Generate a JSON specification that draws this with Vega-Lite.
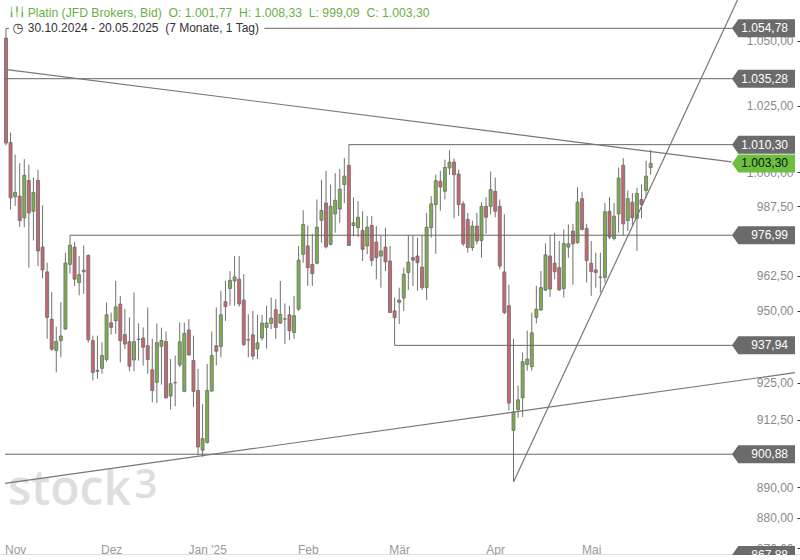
{
  "$schema": "https://vega.github.io/schema/vega-lite/v6.json",
  "width": 800,
  "height": 555,
  "padding": 0,
  "autosize": {"type": "none"},
  "background": "#ffffff",
  "config": {
    "locale": {"number": {"decimal": ",", "thousands": ".", "grouping": [3], "currency": ["", " €"]}},
    "view": {"stroke": null},
    "font": "Liberation Sans",
    "axis": {"grid": false, "title": null, "labelFont": "Liberation Sans"}
  },
  "datasets": {
    "candles": [
      {"i":0,"o":1051.0,"h":1054.78,"l":1010.0,"c":1010.9},
      {"i":1,"o":1011.1,"h":1014.85,"l":986.3,"c":990.6},
      {"i":2,"o":991.0,"h":1006.6,"l":987.6,"c":992.6},
      {"i":3,"o":991.2,"h":1003.4,"l":980.0,"c":982.3},
      {"i":4,"o":983.3,"h":1004.9,"l":979.9,"c":998.9},
      {"i":5,"o":997.0,"h":1002.8,"l":965.3,"c":985.1},
      {"i":6,"o":985.7,"h":998.1,"l":975.1,"c":992.6},
      {"i":7,"o":997.0,"h":1001.0,"l":965.9,"c":971.3},
      {"i":8,"o":972.7,"h":987.9,"l":961.5,"c":964.5},
      {"i":9,"o":963.8,"h":967.1,"l":940.2,"c":947.7},
      {"i":10,"o":947.1,"h":956.6,"l":936.1,"c":936.6},
      {"i":11,"o":936.2,"h":944.4,"l":928.6,"c":939.3},
      {"i":12,"o":939.6,"h":953.0,"l":933.8,"c":941.2},
      {"i":13,"o":943.6,"h":970.7,"l":943.4,"c":967.0},
      {"i":14,"o":966.5,"h":976.99,"l":963.2,"c":973.4},
      {"i":15,"o":972.7,"h":974.6,"l":958.8,"c":961.2},
      {"i":16,"o":960.0,"h":969.5,"l":955.5,"c":962.8},
      {"i":17,"o":964.4,"h":973.3,"l":956.0,"c":963.9},
      {"i":18,"o":969.7,"h":970.1,"l":939.0,"c":939.9},
      {"i":19,"o":939.6,"h":941.3,"l":925.8,"c":928.6},
      {"i":20,"o":929.0,"h":941.3,"l":926.4,"c":929.3},
      {"i":21,"o":930.0,"h":939.0,"l":928.1,"c":934.4},
      {"i":22,"o":933.0,"h":952.9,"l":932.3,"c":948.6},
      {"i":23,"o":945.8,"h":949.4,"l":941.7,"c":944.2},
      {"i":24,"o":946.5,"h":960.6,"l":941.9,"c":951.4},
      {"i":25,"o":952.4,"h":955.3,"l":932.1,"c":939.6},
      {"i":26,"o":941.7,"h":950.6,"l":936.7,"c":938.4},
      {"i":27,"o":939.2,"h":947.7,"l":929.0,"c":930.7},
      {"i":28,"o":932.9,"h":956.5,"l":929.0,"c":939.2},
      {"i":29,"o":940.0,"h":945.6,"l":932.7,"c":940.1},
      {"i":30,"o":940.5,"h":944.2,"l":931.0,"c":937.3},
      {"i":31,"o":937.8,"h":951.2,"l":928.1,"c":933.0},
      {"i":32,"o":929.5,"h":940.2,"l":918.4,"c":922.4},
      {"i":33,"o":925.2,"h":945.6,"l":918.1,"c":938.9},
      {"i":34,"o":937.6,"h":944.1,"l":924.4,"c":939.6},
      {"i":35,"o":939.3,"h":942.8,"l":919.6,"c":919.9},
      {"i":36,"o":920.5,"h":933.2,"l":915.9,"c":924.7},
      {"i":37,"o":925.0,"h":934.4,"l":917.0,"c":925.1},
      {"i":38,"o":931.2,"h":945.9,"l":930.4,"c":939.2},
      {"i":39,"o":922.1,"h":945.9,"l":921.8,"c":942.1},
      {"i":40,"o":943.3,"h":947.1,"l":934.4,"c":934.6},
      {"i":41,"o":932.7,"h":941.3,"l":916.8,"c":922.1},
      {"i":42,"o":922.4,"h":929.8,"l":900.6,"c":903.3},
      {"i":43,"o":902.2,"h":917.7,"l":900.0,"c":906.1},
      {"i":44,"o":904.8,"h":931.5,"l":904.4,"c":922.4},
      {"i":45,"o":922.2,"h":942.8,"l":922.0,"c":934.4},
      {"i":46,"o":937.8,"h":951.2,"l":931.0,"c":935.9},
      {"i":47,"o":937.5,"h":957.1,"l":933.8,"c":948.6},
      {"i":48,"o":953.2,"h":960.6,"l":946.5,"c":951.5},
      {"i":49,"o":957.9,"h":964.1,"l":951.8,"c":960.8},
      {"i":50,"o":960.6,"h":969.5,"l":951.8,"c":962.0},
      {"i":51,"o":961.2,"h":969.5,"l":951.5,"c":952.4},
      {"i":52,"o":953.8,"h":963.0,"l":937.8,"c":938.2},
      {"i":53,"o":939.9,"h":948.8,"l":933.8,"c":939.8},
      {"i":54,"o":941.6,"h":950.0,"l":933.0,"c":934.2},
      {"i":55,"o":936.7,"h":948.6,"l":933.2,"c":938.8},
      {"i":56,"o":940.5,"h":948.6,"l":939.6,"c":945.7},
      {"i":57,"o":944.2,"h":951.8,"l":936.8,"c":945.7},
      {"i":58,"o":945.6,"h":954.7,"l":943.6,"c":947.5},
      {"i":59,"o":950.4,"h":954.1,"l":940.2,"c":944.2},
      {"i":60,"o":945.7,"h":960.6,"l":945.4,"c":948.8},
      {"i":61,"o":947.1,"h":952.6,"l":938.4,"c":947.2},
      {"i":62,"o":948.6,"h":951.8,"l":939.8,"c":943.0},
      {"i":63,"o":942.4,"h":955.3,"l":940.2,"c":948.3},
      {"i":64,"o":950.6,"h":973.1,"l":950.0,"c":968.0},
      {"i":65,"o":970.1,"h":986.1,"l":967.1,"c":980.9},
      {"i":66,"o":973.1,"h":980.5,"l":958.8,"c":965.3},
      {"i":67,"o":966.5,"h":977.5,"l":958.8,"c":963.2},
      {"i":68,"o":966.9,"h":990.0,"l":966.5,"c":979.9},
      {"i":69,"o":982.4,"h":997.3,"l":974.3,"c":986.0},
      {"i":70,"o":988.7,"h":1000.6,"l":972.2,"c":972.8},
      {"i":71,"o":973.7,"h":995.5,"l":973.3,"c":987.5},
      {"i":72,"o":984.7,"h":999.7,"l":977.9,"c":989.7},
      {"i":73,"o":986.5,"h":1001.2,"l":981.5,"c":993.8},
      {"i":74,"o":995.5,"h":1005.3,"l":988.7,"c":998.6},
      {"i":75,"o":1002.6,"h":1010.3,"l":973.1,"c":973.3},
      {"i":76,"o":980.5,"h":990.8,"l":976.6,"c":981.5},
      {"i":77,"o":979.7,"h":989.4,"l":976.3,"c":983.5},
      {"i":78,"o":978.7,"h":985.7,"l":967.7,"c":971.9},
      {"i":79,"o":973.1,"h":983.9,"l":970.1,"c":979.9},
      {"i":80,"o":980.5,"h":983.9,"l":965.9,"c":967.9},
      {"i":81,"o":974.5,"h":980.3,"l":961.2,"c":968.9},
      {"i":82,"o":969.5,"h":977.0,"l":958.2,"c":971.3},
      {"i":83,"o":972.7,"h":979.7,"l":964.1,"c":967.4},
      {"i":84,"o":967.7,"h":973.1,"l":949.4,"c":949.4},
      {"i":85,"o":950.0,"h":954.7,"l":937.94,"c":947.6},
      {"i":86,"o":953.8,"h":958.2,"l":945.4,"c":953.0},
      {"i":87,"o":954.5,"h":965.3,"l":950.0,"c":963.0},
      {"i":88,"o":963.6,"h":976.9,"l":957.4,"c":967.3},
      {"i":89,"o":968.9,"h":976.9,"l":958.8,"c":968.0},
      {"i":90,"o":969.5,"h":976.1,"l":957.1,"c":967.1},
      {"i":91,"o":965.5,"h":976.9,"l":957.4,"c":958.2},
      {"i":92,"o":958.2,"h":985.1,"l":953.8,"c":979.9},
      {"i":93,"o":979.7,"h":991.2,"l":976.1,"c":988.4},
      {"i":94,"o":988.1,"h":999.2,"l":970.3,"c":996.9},
      {"i":95,"o":996.7,"h":1000.6,"l":985.9,"c":994.6},
      {"i":96,"o":993.0,"h":1004.7,"l":990.0,"c":1001.8},
      {"i":97,"o":1001.6,"h":1008.2,"l":999.1,"c":1003.8},
      {"i":98,"o":1003.8,"h":1005.1,"l":983.1,"c":999.1},
      {"i":99,"o":999.4,"h":1001.0,"l":983.9,"c":988.1},
      {"i":100,"o":988.4,"h":989.4,"l":973.1,"c":973.9},
      {"i":101,"o":982.7,"h":985.1,"l":970.7,"c":972.5},
      {"i":102,"o":972.5,"h":982.3,"l":971.3,"c":980.3},
      {"i":103,"o":980.3,"h":985.1,"l":973.7,"c":974.9},
      {"i":104,"o":975.1,"h":989.0,"l":968.9,"c":987.5},
      {"i":105,"o":987.5,"h":990.8,"l":977.5,"c":983.5},
      {"i":106,"o":987.5,"h":1000.3,"l":984.6,"c":993.6},
      {"i":107,"o":993.0,"h":998.1,"l":983.5,"c":985.7},
      {"i":108,"o":987.5,"h":990.0,"l":964.7,"c":965.9},
      {"i":109,"o":963.8,"h":984.6,"l":948.8,"c":949.4},
      {"i":110,"o":951.8,"h":959.2,"l":915.6,"c":918.1},
      {"i":111,"o":908.9,"h":940.2,"l":891.7,"c":915.1},
      {"i":112,"o":915.9,"h":924.1,"l":913.2,"c":919.2},
      {"i":113,"o":919.9,"h":935.5,"l":913.4,"c":932.3},
      {"i":114,"o":931.3,"h":943.1,"l":929.2,"c":933.2},
      {"i":115,"o":930.6,"h":949.4,"l":929.2,"c":942.3},
      {"i":116,"o":947.7,"h":958.8,"l":945.6,"c":950.6},
      {"i":117,"o":950.3,"h":964.1,"l":950.0,"c":958.2},
      {"i":118,"o":957.3,"h":974.0,"l":957.1,"c":969.9},
      {"i":119,"o":969.5,"h":977.0,"l":954.9,"c":957.7},
      {"i":120,"o":966.9,"h":977.9,"l":961.2,"c":963.9},
      {"i":121,"o":965.3,"h":974.9,"l":957.1,"c":957.4},
      {"i":122,"o":957.9,"h":979.1,"l":954.7,"c":974.0},
      {"i":123,"o":972.7,"h":980.9,"l":968.9,"c":973.9},
      {"i":124,"o":978.5,"h":981.1,"l":959.2,"c":973.9},
      {"i":125,"o":974.3,"h":994.5,"l":973.9,"c":989.0},
      {"i":126,"o":990.3,"h":992.8,"l":978.7,"c":979.1},
      {"i":127,"o":979.4,"h":981.1,"l":960.0,"c":967.9},
      {"i":128,"o":966.9,"h":974.9,"l":955.3,"c":963.9},
      {"i":129,"o":964.5,"h":970.7,"l":958.2,"c":963.6},
      {"i":130,"o":962.0,"h":970.7,"l":956.5,"c":961.9},
      {"i":131,"o":961.8,"h":988.7,"l":960.0,"c":985.5},
      {"i":132,"o":985.7,"h":990.8,"l":975.5,"c":976.3},
      {"i":133,"o":975.8,"h":988.7,"l":975.1,"c":983.9},
      {"i":134,"o":984.7,"h":1001.8,"l":977.9,"c":997.9},
      {"i":135,"o":1002.6,"h":1005.3,"l":977.0,"c":981.1},
      {"i":136,"o":982.3,"h":993.3,"l":978.5,"c":990.3},
      {"i":137,"o":989.0,"h":992.4,"l":980.3,"c":983.3},
      {"i":138,"o":983.1,"h":994.3,"l":971.3,"c":992.2},
      {"i":139,"o":990.0,"h":995.5,"l":983.1,"c":988.1},
      {"i":140,"o":993.3,"h":1004.3,"l":990.6,"c":998.6},
      {"i":141,"o":1001.77,"h":1008.33,"l":999.09,"c":1003.3}
    ],
    "levels": [
      {"v":1054.78,"from":0},
      {"v":1035.28,"from":-0.216},
      {"v":1010.3,"from":75},
      {"v":976.99,"from":14},
      {"v":937.94,"from":85},
      {"v":900.88,"from":-0.216}
    ],
    "tags": [
      {"v":1054.78},{"v":1035.28},{"v":1010.3},{"v":1003.3},
      {"v":976.99},{"v":937.94},{"v":900.88},{"v":867.88}
    ],
    "trends": [
      {"g":"a","i":-0.216,"v":1038.9},{"g":"a","i":158.7,"v":1003.9},
      {"g":"b","i":111,"v":891.7},{"g":"b","i":160.0,"v":1065.9},
      {"g":"c","i":-0.216,"v":891.2},{"g":"c","i":172.57,"v":928.5}
    ]
  },
  "layer": [
    {
      "data": {"values": [{"t": "stock"}]},
      "mark": {"type": "text", "align": "left", "baseline": "alphabetic", "font": "Open Sans", "fontSize": 48, "fontWeight": 600, "color": "#dedede"},
      "encoding": {
        "x": {"datum": 0.43, "type": "quantitative", "scale": {"domain": [-0.216, 172.57], "nice": false, "zero": false},
          "axis": {"values": [2, 23, 44, 66, 86, 107, 128], "labelExpr": "datum.value==2?'Nov':datum.value==23?'Dez':datum.value==44?\"Jan '25\":datum.value==66?'Feb':datum.value==86?'Mär':datum.value==107?'Apr':'Mai'", "title": null, "grid": false, "domainColor": "#777777", "domainWidth": 1.5, "tickColor": "#333333", "tickSize": 5, "labelColor": "#999999", "labelFontSize": 12, "labelPadding": -7, "labelBaseline": "alphabetic", "labelAlign": "center", "labelFlush": false, "labelOverlap": false}},
        "y": {"datum": 884.1, "type": "quantitative", "scale": {"type": "log", "domain": [867.88, 1065.9], "nice": false},
          "axis": {"orient": "right", "values": [870, 880, 890, 912.5, 925, 950, 962.5, 987.5, 1000, 1025, 1050], "format": ",.2f", "domain": false, "tickColor": "#333333", "tickSize": -3, "labelPadding": -4, "labelAlign": "right", "labelBaseline": "middle", "labelColor": "#8a8a8a", "labelFontSize": 12, "title": null, "grid": false, "labelOverlap": false, "labelFlush": false}},
        "text": {"field": "t"}
      }
    },
    {
      "data": {"values": [{"t": "3"}]},
      "mark": {"type": "text", "align": "left", "baseline": "alphabetic", "font": "Open Sans", "fontSize": 40, "fontWeight": 600, "color": "#dedede"},
      "encoding": {
        "x": {"datum": 28.1, "type": "quantitative"},
        "y": {"datum": 886.4, "type": "quantitative"},
        "text": {"field": "t"}
      }
    },
    {
      "data": {"name": "candles"},
      "mark": {"type": "rule", "color": "#707070", "strokeWidth": 1},
      "encoding": {
        "x": {"field": "i", "type": "quantitative"},
        "y": {"field": "l", "type": "quantitative"},
        "y2": {"field": "h"}
      }
    },
    {
      "data": {"name": "candles"},
      "mark": {"type": "bar", "size": 3, "stroke": "#6a6a6a", "strokeWidth": 0.8},
      "encoding": {
        "x": {"field": "i", "type": "quantitative"},
        "y": {"field": "o", "type": "quantitative"},
        "y2": {"field": "c"},
        "fill": {"condition": {"test": "datum.c < datum.o", "value": "#c8676e"}, "value": "#7bb04a"}
      }
    },
    {
      "data": {"name": "levels"},
      "mark": {"type": "rule", "color": "#666666", "strokeWidth": 1},
      "encoding": {
        "x": {"field": "from", "type": "quantitative"},
        "x2": {"datum": 158.9},
        "y": {"field": "v", "type": "quantitative"}
      }
    },
    {
      "data": {"name": "trends"},
      "mark": {"type": "line", "color": "#777777", "strokeWidth": 1.2, "clip": true},
      "encoding": {
        "x": {"field": "i", "type": "quantitative"},
        "y": {"field": "v", "type": "quantitative"},
        "detail": {"field": "g"}
      }
    },
    {
      "data": {"values": [{}]},
      "mark": {"type": "rect", "fill": "#ffffff"},
      "encoding": {
        "x": {"datum": 0.65, "type": "quantitative"},
        "x2": {"datum": 56.5},
        "y": {"datum": 1065.9, "type": "quantitative"},
        "y2": {"datum": 1052.2}
      }
    },
    {
      "data": {"values": [{"t": "╽╿╽"}]},
      "mark": {"type": "text", "align": "center", "baseline": "middle", "font": "DejaVu Sans Mono", "fontSize": 9, "letterSpacing": -1, "color": "#6aaf45"},
      "encoding": {
        "x": {"datum": 2.38, "type": "quantitative"},
        "y": {"datum": 1061.2, "type": "quantitative"},
        "text": {"field": "t"}
      }
    },
    {
      "data": {"values": [{"t": "Platin (JFD Brokers, Bid)\u00a0\u00a0O: 1.001,77\u00a0\u00a0H: 1.008,33\u00a0\u00a0L: 999,09\u00a0\u00a0C: 1.003,30"}]},
      "mark": {"type": "text", "align": "left", "baseline": "middle", "fontSize": 12.2, "color": "#6aaf45"},
      "encoding": {
        "x": {"datum": 4.75, "type": "quantitative"},
        "y": {"datum": 1060.8, "type": "quantitative"},
        "text": {"field": "t"}
      }
    },
    {
      "data": {"values": [{"t": "30.10.2024 - 20.05.2025\u00a0\u00a0(7 Monate, 1 Tag)"}]},
      "mark": {"type": "text", "align": "left", "baseline": "middle", "fontSize": 12, "color": "#333333"},
      "encoding": {
        "x": {"datum": 4.75, "type": "quantitative"},
        "y": {"datum": 1054.9, "type": "quantitative"},
        "text": {"field": "t"}
      }
    },
    {
      "data": {"values": [{"t": "◷"}]},
      "mark": {"type": "text", "align": "center", "baseline": "middle", "font": "DejaVu Sans", "fontSize": 13, "color": "#333333"},
      "encoding": {
        "x": {"datum": 2.6, "type": "quantitative"},
        "y": {"datum": 1054.9, "type": "quantitative"},
        "text": {"field": "t"}
      }
    },
    {
      "data": {"name": "tags"},
      "mark": {"type": "point", "shape": "M-7,0L-6.3,-1L0,-1L0,1L-6.3,1Z", "size": 324, "filled": true, "opacity": 1, "strokeWidth": 0},
      "encoding": {
        "x": {"datum": 172.57, "type": "quantitative"},
        "y": {"field": "v", "type": "quantitative"},
        "color": {"condition": {"test": "datum.v === 1003.3", "value": "#6cbf3f"}, "value": "#6b6b6b"}
      }
    },
    {
      "data": {"name": "tags"},
      "mark": {"type": "text", "align": "right", "baseline": "middle", "dx": -7, "fontSize": 12},
      "encoding": {
        "x": {"datum": 172.57, "type": "quantitative"},
        "y": {"field": "v", "type": "quantitative"},
        "text": {"field": "v", "type": "quantitative", "format": ",.2f"},
        "color": {"condition": {"test": "datum.v === 1003.3", "value": "#111111"}, "value": "#ffffff"}
      }
    }
  ]
}
